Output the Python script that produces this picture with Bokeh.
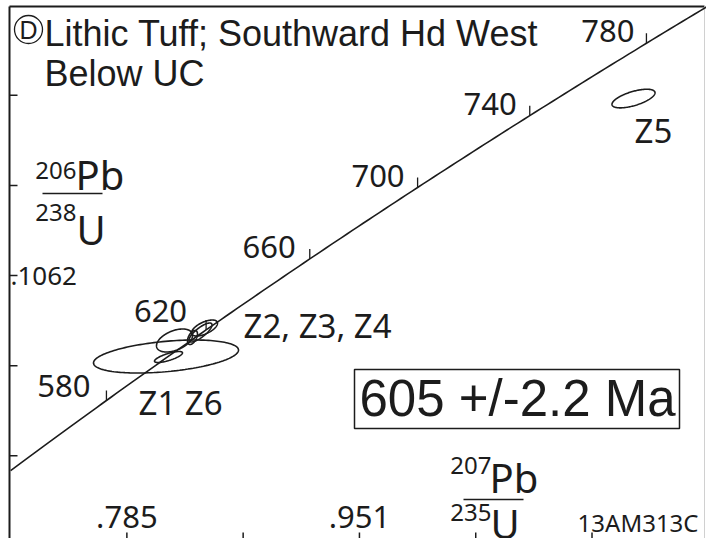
import numpy as np
from bokeh.plotting import figure
from bokeh.core.properties import value
from bokeh.embed import file_html
from bokeh.resources import INLINE

# ---------------- data ----------------
# U decay constants (1/yr)
LAMBDA_238 = 1.55125e-10
LAMBDA_235 = 9.8485e-10

concordia_ages = list(range(540, 801, 2))          # Ma, for the concordia curve
age_ticks = [580, 620, 660, 700, 740, 780]          # Ma, labelled on concordia

x_ticks = [0.785, 0.868, 0.951, 1.034, 1.117]
x_tick_labels = [".785", "", ".951", "", ""]
y_ticks = [0.0888, 0.0975, 0.1062, 0.1149, 0.1236]
y_tick_labels = ["", "", ".1062", "", ""]

grains = ["Z6", "Z1", "Zx", "Z2", "Z3", "Z4", "Z5"]
pb207_u235 = [0.81293, 0.81471, 0.81900, 0.84041, 0.83755, 0.83184, 1.14662]
err_207 = [0.05175, 0.00999, 0.01285, 0.00928, 0.00821, 0.00357, 0.01535]
pb206_u238 = [0.098391, 0.098343, 0.099936, 0.101142, 0.100708, 0.100225, 0.12329]
err_206 = [0.001593, 0.000531, 0.001110, 0.000772, 0.000917, 0.000676, 0.000898]
rho = [0.39, 0.75, 0.45, 0.60, 0.80, 0.50, 0.62]

age_result = "605 +/-2.2 Ma"
sample_id = "13AM313C"
title_1 = "Lithic Tuff; Southward Hd West"
title_2 = "Below UC"

# ---------------- figure ----------------
W, H = 706, 538
X0, X1 = 0.69480, 1.19872
Y0, Y1 = 0.080824, 0.132754

p = figure(width=W, height=H, x_range=(X0, X1), y_range=(Y0, Y1),
           output_backend="svg", toolbar_location=None,
           min_border=0, min_border_left=0, min_border_right=0,
           min_border_top=0, min_border_bottom=0)
p.axis.visible = False
p.grid.visible = False
p.outline_line_color = None
p.background_fill_color = "white"
p.border_fill_color = "white"

INK = "#1c1c1c"


def px(x):  # picture pixel -> data x (text placement only)
    return X0 + x / W * (X1 - X0)


def py(y):  # picture pixel -> data y
    return Y1 - y / H * (Y1 - Y0)


NOTO = value("Noto Sans")
ARIAL = value("Liberation Sans")
FL, FT, FR = px(9), py(6), px(704)

# frame lines (left, top dark; right faint)
p.segment(x0=[FL, FL], y0=[Y0, FT], x1=[FL, FR], y1=[FT, FT], line_color=INK, line_width=2)
p.segment(x0=[FR], y0=[Y0], x1=[FR], y1=[FT], line_color="#d0d0d0", line_width=1)

# axis ticks (inward)
p.ray(x=[FL] * len(y_ticks), y=y_ticks, length=8, length_units="screen", angle=0,
      line_color=INK, line_width=1.5)
p.ray(x=x_ticks, y=[Y0] * len(x_ticks), length=6, length_units="screen", angle=np.pi / 2,
      line_color=INK, line_width=1.5)
p.text(x=[FL] * len(y_ticks), y=y_ticks, text=y_tick_labels, x_offset=1,
       text_baseline="middle", text_align="left", text_font=NOTO,
       text_font_size="26px", text_color=INK)
p.text(x=x_ticks, y=[Y0] * len(x_ticks), text=x_tick_labels, y_offset=-22,
       text_baseline="middle", text_align="center", text_font=NOTO,
       text_font_size="31px", text_color=INK)

# concordia
ages = np.array(concordia_ages, dtype=float) * 1e6
cx = np.exp(LAMBDA_235 * ages) - 1
cy = np.exp(LAMBDA_238 * ages) - 1
p.line(cx, cy, line_color=INK, line_width=1.6)

ta = np.array(age_ticks, dtype=float) * 1e6
tx = np.exp(LAMBDA_235 * ta) - 1
ty = np.exp(LAMBDA_238 * ta) - 1
p.ray(x=tx, y=ty, length=10, length_units="screen", angle=np.pi / 2,
      line_color=INK, line_width=1.3)
p.text(x=tx, y=ty, text=[str(a) for a in age_ticks],
       x_offset=[-16, -19, -14, -13, -13, -12], y_offset=[-15, -19, -12, -12, -12, -12],
       text_align="right", text_baseline="middle", text_font=NOTO,
       text_font_size="31px", text_color=INK)

# error ellipses
t = np.linspace(0, 2 * np.pi, 160)
xs, ys = [], []
for xc, ex, yc, ey, r in zip(pb207_u235, err_207, pb206_u238, err_206, rho):
    xs.append(xc + ex * np.cos(t))
    ys.append(yc + ey * (r * np.cos(t) + np.sqrt(1 - r * r) * np.sin(t)))
p.patches(xs, ys, fill_color=None, line_color=INK, line_width=1.6)

# grain labels
p.text(x=[px(243), px(138), px(634)], y=[py(325), py(402), py(130)],
       text=["Z2, Z3, Z4", "Z1 Z6", "Z5"], text_font=NOTO, text_font_size="33px",
       text_baseline="middle", text_align="left", text_color=INK)

# title
p.circle(x=[px(28)], y=[py(29)], radius=14, radius_units="screen", fill_color=None,
         line_color=INK, line_width=1.3)
p.text(x=[px(28)], y=[py(29)], text=["D"], text_font=ARIAL, text_font_size="25px",
       text_align="center", text_baseline="middle", text_color=INK)
p.text(x=[px(44), px(44)], y=[py(33), py(73)], text=[title_1, title_2],
       text_font=ARIAL, text_font_size="36px", text_align="left",
       text_baseline="middle", text_color=INK)

# age box
p.rect(x=[px(516.5)], y=[py(398.5)], width=325, height=59, width_units="screen",
       height_units="screen", fill_color=None, line_color=INK, line_width=1.5)
p.text(x=[px(517)], y=[py(398)], text=[age_result], text_font=ARIAL,
       text_font_size="51px", text_align="center", text_baseline="middle",
       text_color=INK)

# ratio axis titles
p.text(x=[px(76), px(76)], y=[py(170), py(212)], text=["206", "238"], text_font=NOTO,
       text_font_size="24px", text_align="right", text_baseline="middle", text_color=INK)
p.text(x=[px(75), px(76)], y=[py(174), py(229)], text=["Pb", "U"], text_font=NOTO,
       text_font_size="40px", text_align="left", text_baseline="middle", text_color=INK)
p.segment(x0=[px(42)], y0=[py(193)], x1=[px(102)], y1=[py(193)], line_color=INK, line_width=1.5)

p.text(x=[px(491), px(491)], y=[py(465), py(512)], text=["207", "235"], text_font=NOTO,
       text_font_size="24px", text_align="right", text_baseline="middle", text_color=INK)
p.text(x=[px(489), px(490)], y=[py(477), py(523)], text=["Pb", "U"], text_font=NOTO,
       text_font_size="40px", text_align="left", text_baseline="middle", text_color=INK)
p.segment(x0=[px(463)], y0=[py(499)], x1=[px(523)], y1=[py(499)], line_color=INK, line_width=1.5)

p.text(x=[px(698)], y=[py(522)], text=[sample_id], text_font=NOTO, text_font_size="24px",
       text_align="right", text_baseline="middle", text_color=INK)

open("out.html", "w").write(file_html(p, INLINE))
